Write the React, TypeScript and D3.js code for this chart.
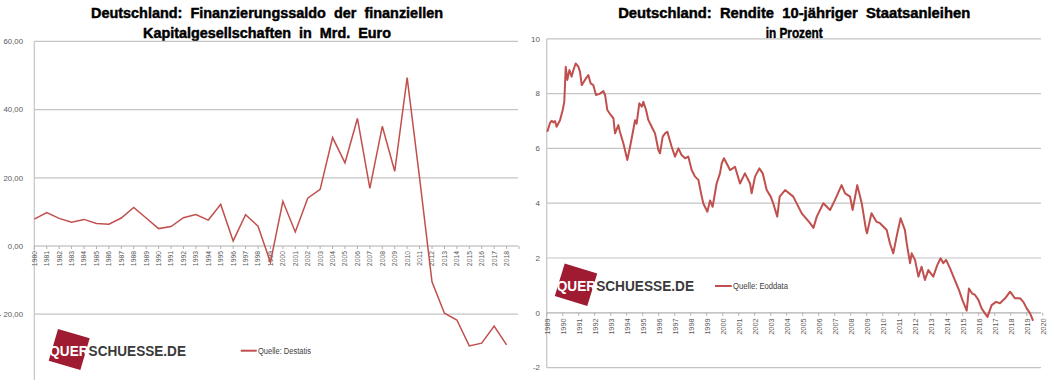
import React from 'react';
import * as d3 from 'd3';

// ---------- Left chart data: Finanzierungssaldo (Mrd. Euro) ----------
const finYears = [
  1980, 1981, 1982, 1983, 1984, 1985, 1986, 1987, 1988, 1989,
  1990, 1991, 1992, 1993, 1994, 1995, 1996, 1997, 1998, 1999,
  2000, 2001, 2002, 2003, 2004, 2005, 2006, 2007, 2008, 2009,
  2010, 2011, 2012, 2013, 2014, 2015, 2016, 2017, 2018,
];
const finValues = [
  7.9, 9.8, 8.1, 7.0, 7.8, 6.6, 6.4, 8.2, 11.3, 8.2,
  5.1, 5.7, 8.3, 9.2, 7.6, 12.2, 1.5, 9.2, 5.8, -4.8,
  13.1, 4.1, 14.0, 16.6, 31.8, 24.4, 37.4, 16.9, 35.1, 21.9,
  49.4, 20.0, -10.5, -19.7, -21.7, -29.3, -28.5, -23.5, -29.0,
];
const finYTicks = [60, 40, 20, 0, -20];
const finYTickLabels = ['60,00', '40,00', '20,00', '0,00', '- 20,00'];
const finXTickYears = [
  1980, 1981, 1982, 1983, 1984, 1985, 1986, 1987, 1988, 1989,
  1990, 1991, 1992, 1993, 1994, 1995, 1996, 1997, 1998, 1999,
  2000, 2001, 2002, 2003, 2004, 2005, 2006, 2007, 2008, 2009,
  2010, 2011, 2012, 2013, 2014, 2015, 2016, 2017, 2018, 2019,
];

// ---------- Right chart data: Rendite 10-jähriger Staatsanleihen (%) ----------
const bundDates = [
  1989.04, 1989.2, 1989.31, 1989.41, 1989.52, 1989.62, 1989.83, 1990.0, 1990.1, 1990.19,
  1990.29, 1990.42, 1990.56, 1990.67, 1990.81, 1990.98, 1991.08, 1991.19, 1991.39, 1991.6,
  1991.75, 1991.91, 1992.08, 1992.33, 1992.54, 1992.65, 1992.79, 1993.0, 1993.17, 1993.27,
  1993.48, 1993.58, 1993.79, 1994.04, 1994.21, 1994.41, 1994.52, 1994.62, 1994.79, 1994.94,
  1995.04, 1995.21, 1995.35, 1995.56, 1995.77, 1995.98, 1996.08, 1996.25, 1996.4, 1996.54,
  1996.81, 1997.02, 1997.23, 1997.43, 1997.65, 1997.85, 1998.06, 1998.27, 1998.48, 1998.69,
  1998.79, 1999.04, 1999.21, 1999.37, 1999.62, 1999.83, 1999.94, 2000.08, 2000.25, 2000.46,
  2000.77, 2001.08, 2001.39, 2001.71, 2001.81, 2002.02, 2002.29, 2002.5, 2002.75, 2003.0,
  2003.16, 2003.41, 2003.56, 2003.9, 2004.41, 2004.94, 2005.46, 2005.67, 2005.88, 2006.29,
  2006.71, 2007.02, 2007.43, 2007.65, 2007.96, 2008.12, 2008.41, 2008.69, 2008.96, 2009.02,
  2009.3, 2009.6, 2009.83, 2010.25, 2010.45, 2010.66, 2010.87, 2011.12, 2011.39, 2011.5,
  2011.71, 2011.81, 2012.02, 2012.23, 2012.43, 2012.64, 2012.85, 2013.16, 2013.41, 2013.62,
  2013.79, 2013.96, 2014.21, 2014.42, 2014.77, 2014.98, 2015.25, 2015.39, 2015.58, 2015.77,
  2015.98, 2016.18, 2016.39, 2016.55, 2016.81, 2017.08, 2017.33, 2017.65, 2017.96, 2018.27,
  2018.58, 2018.79, 2019.0, 2019.21, 2019.4,
];
const bundYields = [
  6.61, 6.92, 7.01, 6.95, 7.0, 6.79, 7.03, 7.4, 7.7, 8.98,
  8.5, 8.86, 8.62, 8.86, 9.1, 8.98, 8.8, 8.31, 8.5, 8.68,
  8.37, 8.31, 7.95, 8.0, 8.09, 7.95, 7.4, 7.22, 7.1, 6.55,
  6.85, 6.6, 6.19, 5.58, 6.06, 6.67, 7.03, 6.9, 7.65, 7.52,
  7.7, 7.4, 7.04, 6.79, 6.55, 5.94, 5.82, 6.43, 6.55, 6.61,
  6.06, 5.7, 6.0, 5.76, 5.64, 5.7, 5.21, 4.97, 4.85, 4.24,
  3.99, 3.69, 4.1, 3.87, 4.72, 5.09, 5.45, 5.64, 5.45, 5.21,
  5.33, 4.72, 5.09, 4.72, 4.36, 4.97, 5.27, 5.09, 4.48, 4.24,
  3.99, 3.51, 4.24, 4.48, 4.24, 3.63, 3.27, 3.1, 3.51, 4.0,
  3.75, 4.12, 4.66, 4.36, 4.24, 3.75, 4.66, 4.0, 3.02, 2.9,
  3.63, 3.33, 3.27, 3.02, 2.54, 2.17, 2.78, 3.45, 3.02, 2.54,
  1.81, 2.17, 1.93, 1.32, 1.68, 1.2, 1.56, 1.32, 1.74, 1.99,
  1.81, 1.93, 1.62, 1.32, 0.83, 0.47, 0.08, 0.89, 0.71, 0.65,
  0.47, 0.16, -0.02, -0.15, 0.28, 0.4, 0.35, 0.53, 0.77, 0.53,
  0.53, 0.4, 0.16, -0.02, -0.29,
];
const bundYTicks = [10, 8, 6, 4, 2, 0, -2];
const bundXTickYears = [
  1989, 1990, 1991, 1992, 1993, 1994, 1995, 1996, 1997, 1998, 1999,
  2000, 2001, 2002, 2003, 2004, 2005, 2006, 2007, 2008, 2009,
  2010, 2011, 2012, 2013, 2014, 2015, 2016, 2017, 2018, 2019, 2020,
];

const FONT = "'Liberation Sans', Arial, sans-serif";
const RED = '#c0504d';
const GRID = '#c4c4c4';
const LABEL = '#595959';
const LOGO_RED = '#9e1b32';

function Logo({ cx, cy, size, angle, textX, textY, textW }: any) {
  return (
    <g>
      <rect
        x={-size / 2}
        y={-size / 2}
        width={size}
        height={size}
        fill={LOGO_RED}
        transform={`translate(${cx},${cy}) rotate(${angle})`}
      />
      <text
        x={textX}
        y={textY}
        fontFamily={FONT}
        fontWeight="bold"
        fontSize={14}
        textLength={textW}
        lengthAdjust="spacingAndGlyphs"
      >
        <tspan fill="#ffffff">QUER</tspan>
        <tspan fill="#3a3a3a">SCHUESSE.DE</tspan>
      </text>
    </g>
  );
}

function Title({ cx, lines, widths }: any) {
  return (
    <g>
      {lines.map((t: string, i: number) => (
        <text
          key={i}
          x={cx}
          y={17.5 + i * 20}
          textAnchor="middle"
          fontFamily={FONT}
          fontWeight="bold"
          fontSize={14.5}
          fill="#000"
          stroke="#000"
          strokeWidth={0.45}
          textLength={widths[i]}
          lengthAdjust="spacingAndGlyphs"
          style={{ whiteSpace: 'pre' }}
        >
          {t}
        </text>
      ))}
    </g>
  );
}

function LeftChart() {
  const x = d3.scaleLinear().domain([1980, 2019]).range([34.3, 519]);
  const y = d3.scaleLinear().domain([-40, 60]).range([382.4, 41.4]);
  const line = d3
    .line<number>()
    .x((_, i) => x(finYears[i]))
    .y((v) => y(v));
  const x0 = x(1980);
  const xr = 518;
  return (
    <g>
      <Title
        cx={267}
        lines={['Deutschland:  Finanzierungssaldo  der  finanziellen', 'Kapitalgesellschaften  in  Mrd.  Euro']}
        widths={[352, 248]}
      />
      {finYTicks.map((t, i) => (
        <g key={t}>
          {t !== 0 && (
            <line x1={x0} x2={xr} y1={y(t)} y2={y(t)} stroke={GRID} strokeWidth={1.2} />
          )}
          <text
            x={23}
            y={y(t)}
            dy="0.35em"
            textAnchor="end"
            fontFamily={FONT}
            fontSize={7.8}
            fill={LABEL}
          >
            {finYTickLabels[i]}
          </text>
        </g>
      ))}
      {/* y axis */}
      <line x1={x0} x2={x0} y1={y(60)} y2={382} stroke={GRID} strokeWidth={1.2} />
      {/* x axis at zero */}
      <line x1={x0} x2={xr} y1={y(0)} y2={y(0)} stroke="#b0b0b0" strokeWidth={1.2} />
      {finXTickYears.map((yr) => (
        <line key={yr} x1={x(yr)} x2={x(yr)} y1={y(0)} y2={y(0) + 3} stroke="#b0b0b0" strokeWidth={1} />
      ))}
      {finXTickYears.slice(0, finYears.length).map((yr) => (
        <text
          key={yr}
          transform={`translate(${x(yr)},${y(0) + 5}) rotate(-90)`}
          dy="0.35em"
          textAnchor="end"
          fontFamily={FONT}
          fontSize={6.8}
          fill={LABEL}
        >
          {yr}
        </text>
      ))}
      <path d={line(finValues) || ''} fill="none" stroke={RED} strokeWidth={1.5} strokeLinejoin="miter" />
      <Logo cx={69.2} cy={349.5} size={33} angle={16.4} textX={49.3} textY={356} textW={136.7} />
      <line x1={240.7} x2={256.7} y1={350.7} y2={350.7} stroke={RED} strokeWidth={2} />
      <text x={258} y={353.6} fontFamily={FONT} fontSize={8.3} fill="#404040" textLength={53} lengthAdjust="spacingAndGlyphs">
        Quelle: Destatis
      </text>
    </g>
  );
}

function RightChart() {
  const x = d3.scaleLinear().domain([1989, 2020]).range([546.7, 1042.7]);
  const y = d3.scaleLinear().domain([-2, 10]).range([367.6, 38.8]);
  const line = d3
    .line<number>()
    .x((_, i) => x(bundDates[i]))
    .y((v) => y(v))
    .curve(d3.curveLinear);
  const x0 = x(1989);
  const xr = 1041;
  return (
    <g>
      <Title
        cx={794.2}
        lines={['Deutschland:  Rendite  10-jähriger  Staatsanleihen', 'in Prozent']}
        widths={[352, 57]}
      />
      {bundYTicks.map((t) => (
        <g key={t}>
          {t !== 0 && (
            <line x1={x0} x2={xr} y1={y(t)} y2={y(t)} stroke={GRID} strokeWidth={1.2} />
          )}
          <text
            x={540}
            y={y(t)}
            dy="0.35em"
            textAnchor="end"
            fontFamily={FONT}
            fontSize={8}
            fill={LABEL}
          >
            {t}
          </text>
        </g>
      ))}
      <line x1={x0} x2={x0} y1={y(10)} y2={y(-2)} stroke={GRID} strokeWidth={1.2} />
      <line x1={x0} x2={xr} y1={y(0)} y2={y(0)} stroke="#b0b0b0" strokeWidth={1.2} />
      {bundXTickYears.map((yr) => (
        <g key={yr}>
          <line x1={x(yr)} x2={x(yr)} y1={y(0)} y2={y(0) + 3} stroke="#b0b0b0" strokeWidth={1} />
          <text
            transform={`translate(${x(yr) + 1},${y(0) + 5.5}) rotate(-90)`}
            dy="0.35em"
            textAnchor="end"
            fontFamily={FONT}
            fontSize={7.4}
            fill={LABEL}
          >
            {yr}
          </text>
        </g>
      ))}
      <path d={line(bundYields) || ''} fill="none" stroke={RED} strokeWidth={2} strokeLinejoin="round" />
      <Logo cx={576} cy={284.7} size={34} angle={17} textX={556.7} textY={290.7} textW={137.3} />
      <line x1={715} x2={731.7} y1={286} y2={286} stroke={RED} strokeWidth={2} />
      <text x={733} y={289} fontFamily={FONT} fontSize={8.3} fill="#404040" textLength={55} lengthAdjust="spacingAndGlyphs">
        Quelle: Eoddata
      </text>
    </g>
  );
}

export default function App() {
  return (
    <svg
      width={1050}
      height={380}
      viewBox="0 0 1050 380"
      style={{ position: 'absolute', left: 0, top: 0, background: '#fff', display: 'block' }}
    >
      <rect x={0} y={0} width={1050} height={380} fill="#fff" />
      <LeftChart />
      <RightChart />
    </svg>
  );
}
